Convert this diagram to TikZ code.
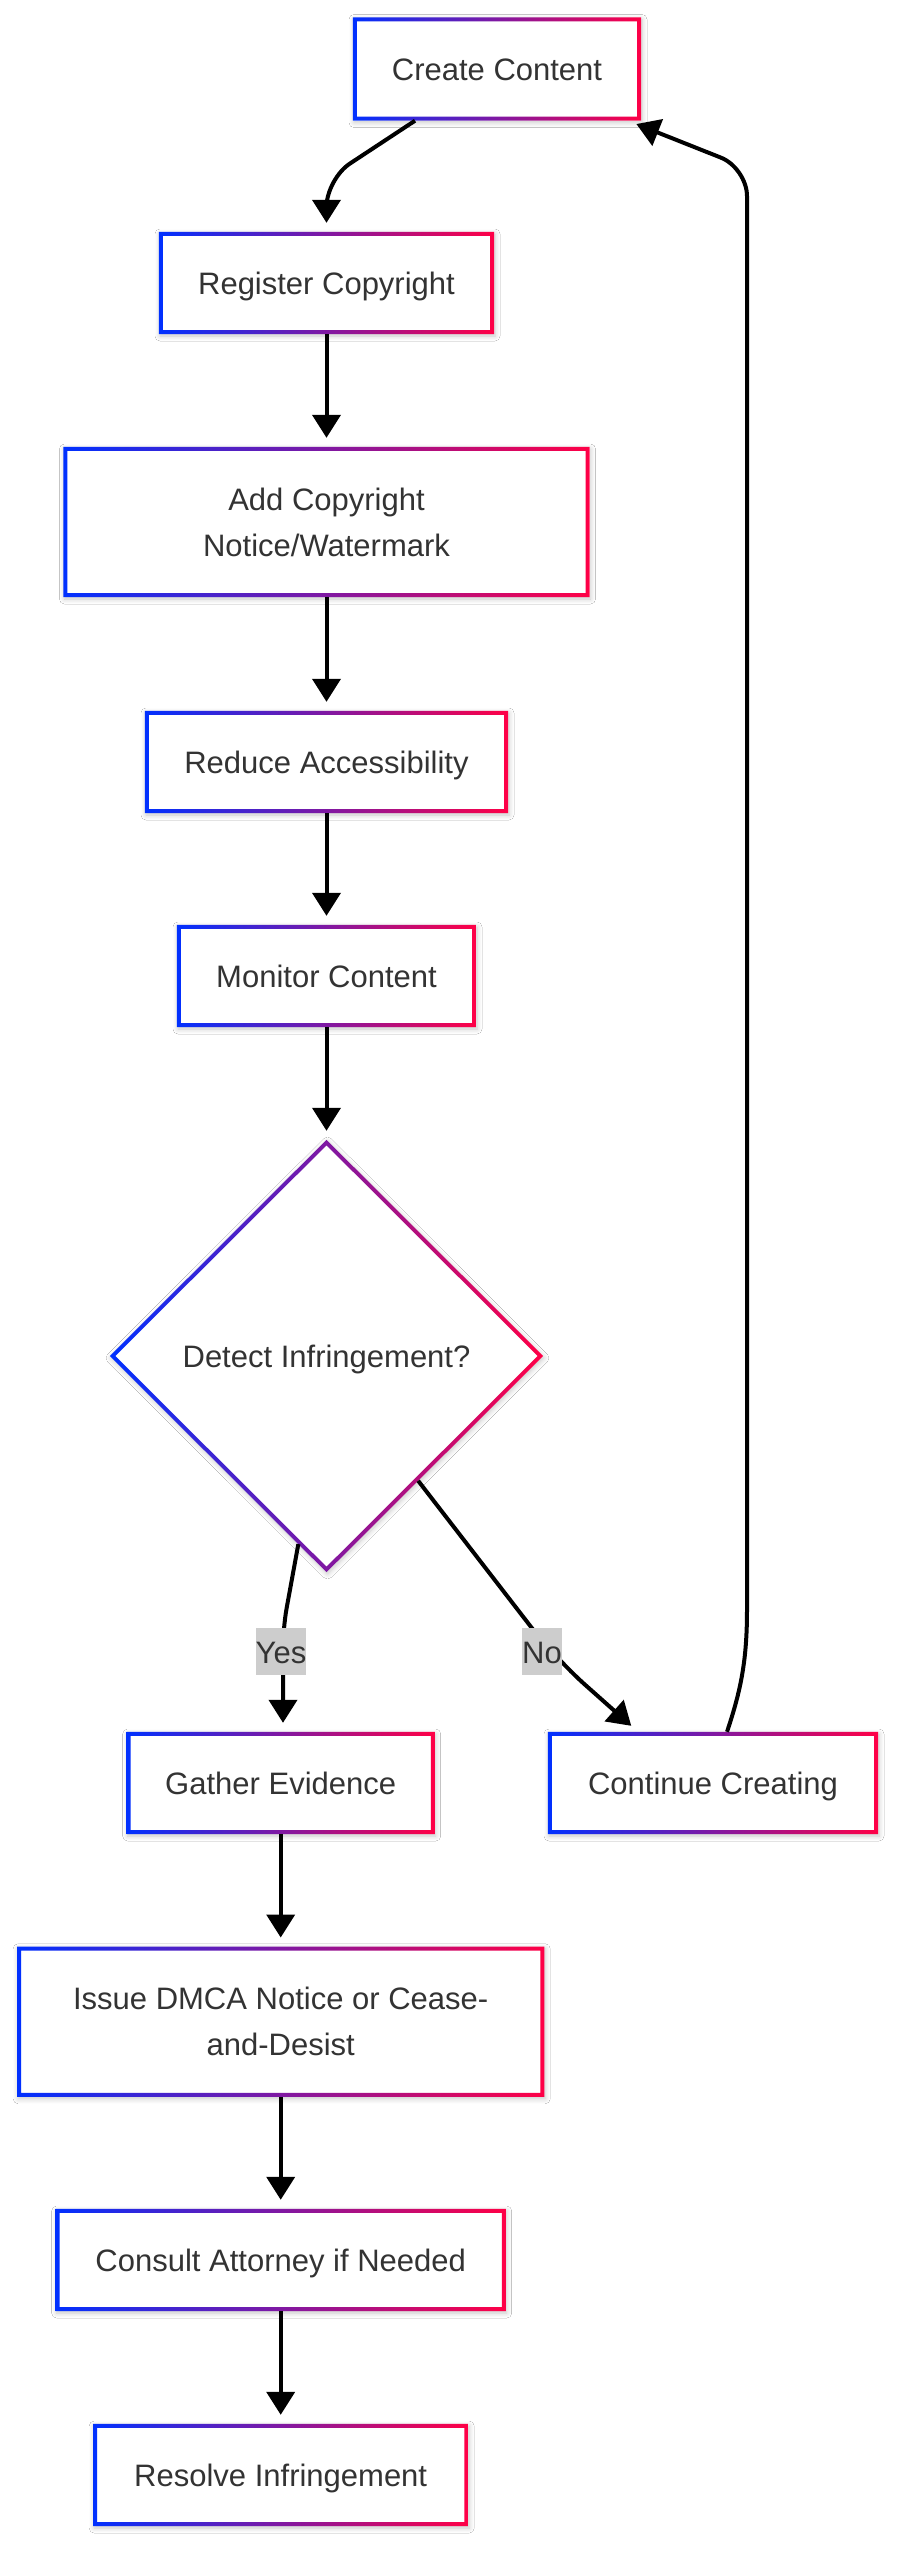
\documentclass[tikz,border=0pt]{standalone}
\usepackage{fontspec}
\setmainfont{Liberation Sans}
\usetikzlibrary{arrows.meta,shapes.geometric,calc,shadows.blur}
\definecolor{gblue}{RGB}{0,48,255}
\definecolor{gred}{RGB}{255,0,70}
\definecolor{txt}{RGB}{51,51,51}
\definecolor{lblgray}{RGB}{205,205,205}
\newcommand\myfont{\fontsize{31pt}{46pt}\selectfont}
\tikzset{
  boxbase/.style={rectangle, fill=white, inner sep=0pt, text=txt, font=\myfont, align=center,
    blur shadow={shadow xshift=1pt, shadow yshift=-2pt, shadow blur radius=5pt, shadow opacity=22, shadow blur steps=6}},
  box1/.style={boxbase, text height=22pt, text depth=0pt},
  box2/.style={boxbase},
  decision/.style={diamond, aspect=1, fill=white, inner sep=0pt, text=txt, font=\myfont,
    text height=22pt, text depth=0pt,
    blur shadow={shadow xshift=1pt, shadow yshift=-2pt, shadow blur radius=5pt, shadow opacity=22, shadow blur steps=6}},
  ring/.style={left color=gblue, right color=gred, even odd rule},
  arr/.style={line width=4pt, black, shorten >=9pt, -{Triangle[width=28pt,length=23pt]}},
  elabel/.style={fill=lblgray, text=txt, font=\myfont, inner xsep=0pt, inner ysep=0pt,
    text height=23pt, text depth=0pt, minimum height=47pt}
}
\begin{document}
\begin{tikzpicture}[x=1pt,y=-1pt]
\useasboundingbox (0,0) rectangle (901,2560);
\fill[white] (0,0) rectangle (901,2560);

% nodes
\node[box1, minimum width=288pt, minimum height=103pt] (create) at (497,69) {Create Content};
\node[box1, minimum width=335pt, minimum height=102pt] (reg) at (326.5,283) {Register Copyright};
\node[box2, minimum width=526pt, minimum height=150pt] (add) at (326.5,522) {Add Copyright\\Notice/Watermark};
\node[box1, minimum width=363pt, minimum height=102pt] (red) at (326.5,762) {Reduce Accessibility};
\node[box1, minimum width=299pt, minimum height=102pt] (mon) at (326.5,976) {Monitor Content};
\node[decision, minimum width=433pt, minimum height=432pt] (dia) at (326.5,1356) {Detect Infringement?};
\node[box1, minimum width=308pt, minimum height=102pt] (gath) at (280.7,1783) {Gather Evidence};
\node[box1, minimum width=330pt, minimum height=102pt] (cont) at (713,1783) {Continue Creating};
\node[box2, minimum width=527pt, minimum height=150pt] (issue) at (280.7,2021.7) {Issue DMCA Notice or Cease-\\and-Desist};
\node[box1, minimum width=450pt, minimum height=102pt] (cons) at (280.7,2260) {Consult Attorney if Needed};
\node[box1, minimum width=375pt, minimum height=102pt] (res) at (280.7,2475) {Resolve Infringement};

% gradient borders
\foreach \n in {create,reg,add,red,mon,gath,cont,issue,cons,res}{
  \shade[ring] (\n.north west) rectangle (\n.south east)
    ([shift={(4pt,4pt)}]\n.south west) rectangle ([shift={(-4pt,-4pt)}]\n.north east);
}
\shade[ring] (dia.north) -- (dia.east) -- (dia.south) -- (dia.west) -- cycle
  ([yshift=-5.5pt]dia.north) -- ([xshift=-5.5pt]dia.east) -- ([yshift=5.5pt]dia.south) -- ([xshift=5.5pt]dia.west) -- cycle;

% connectors
\coordinate (c1) at (326.5,179);
\draw[arr, rounded corners=28pt] ([xshift=-82pt]create.south) -- (c1) -- (reg.north);
\draw[arr] (reg) -- (add);
\draw[arr] (add) -- (red);
\draw[arr] (red) -- (mon);
\draw[arr] (mon) -- (dia);
\coordinate (y1) at (283,1628);
\draw[arr, rounded corners=20pt] ($(dia.south)!0.13!(dia.west)$) -- (y1) -- (gath.north -| y1);
\coordinate (n1) at (555,1658);
\draw[arr, rounded corners=40pt] ($(dia.east)!0.577!(dia.south)$) -- (n1) -- ([xshift=-75pt]cont.north);
\coordinate (l1) at (747,1610);
\coordinate (l2) at (747,168);
\draw[arr] ([xshift=14pt]cont.north) .. controls (741,1690) and (747,1660) .. (l1)
  [rounded corners=28pt] -- (l2) -- ([xshift=131pt]create.south);
\draw[arr] (gath) -- (issue);
\draw[arr] (issue) -- (cons);
\draw[arr] (cons) -- (res);

% edge labels
\node[elabel] (yes) at (281,1651.5) {Yes};
\node[elabel] (no) at (542,1651.5) {No};
\end{tikzpicture}
\end{document}
